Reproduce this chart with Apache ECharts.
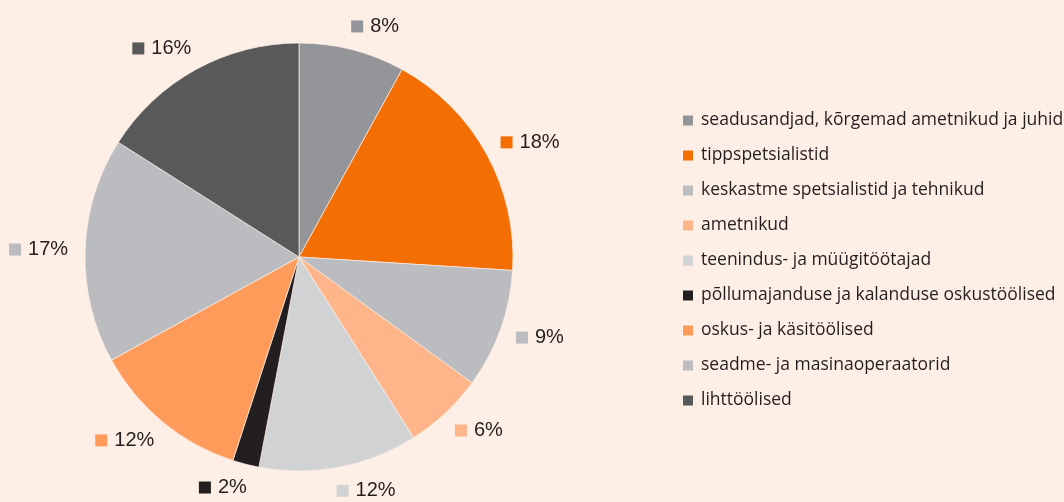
<!DOCTYPE html>
<html>
<head>
<meta charset="utf-8">
<script src="https://cdn.jsdelivr.net/npm/echarts@6/dist/echarts.min.js"></script>
<style>
  html, body {margin: 0; padding: 0; background: #fdeee6;}
  #main {width: 1064px; height: 502px;}
</style>
</head>
<body>
<div id="main"></div>
<script>
// ametialad, osakaal %
var categories = [
    'seadusandjad, kõrgemad ametnikud ja juhid',
    'tippspetsialistid',
    'keskastme spetsialistid ja tehnikud',
    'ametnikud',
    'teenindus- ja müügitöötajad',
    'põllumajanduse ja kalanduse oskustöölised',
    'oskus- ja käsitöölised',
    'seadme- ja masinaoperaatorid',
    'lihttöölised'
];
var values = [8, 18, 9, 6, 12, 2, 12, 17, 16];
var colors = ['#939598', '#f36f03', '#bbbcbf', '#feb589', '#d1d2d4', '#231f20', '#fe9b5b', '#bbbcbf', '#58595b'];

var rich = {v: {fontFamily: 'Liberation Sans', fontSize: 20, color: '#231f20', padding: [0, 0, 0, 7]}};
colors.forEach(function (c, i) {
    rich['m' + i] = {width: 12, height: 12, backgroundColor: c};
});

var data = categories.map(function (name, i) {
    return {name: name, value: values[i], itemStyle: {color: colors[i]}};
});

var option = {
    backgroundColor: '#fdeee6',
    animation: false,
    legend: {
        orient: 'vertical',
        left: 676, top: 106,
        icon: 'rect',
        itemWidth: 12, itemHeight: 12, itemGap: 16,   //图例宽度、高度、间隔
        textStyle: {fontFamily: 'Open Sans', fontSize: 17.5, color: '#231f20', padding: [0, 0, 0, 2], lineHeight: 19},
        data: categories
    },
    series: [{
        type: 'pie',
        center: [299, 257],
        radius: 214,
        startAngle: 90,
        clockwise: true,
        avoidLabelOverlap: false,
        itemStyle: {borderColor: '#fdeee6', borderWidth: 0.7},
        label: {
            position: 'outside',
            distanceToLabelLine: -7,
            formatter: function (p) {
                return '{m' + p.dataIndex + '|}{v|' + p.value + '%}';
            },
            rich: rich
        },
        labelLine: {show: false, length: 24, length2: 0},
        emphasis: {disabled: true},
        data: data
    }]
};

var myChart = echarts.init(document.getElementById('main'));
myChart.setOption(option);
</script>
</body>
</html>
